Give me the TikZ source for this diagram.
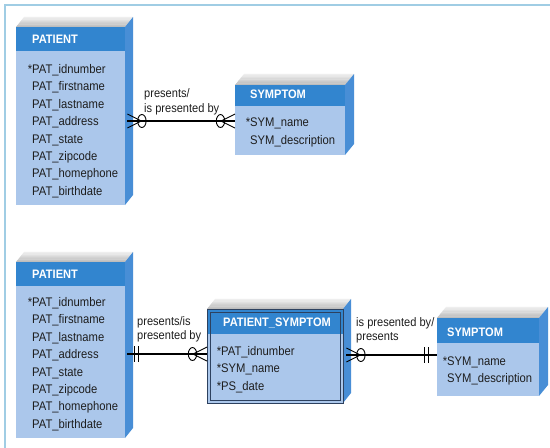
\documentclass[tikz,border=0pt]{standalone}
\usepackage{fontspec}
\setmainfont{Liberation Sans}[FakeStretch=0.9]
\usetikzlibrary{calc}

\definecolor{headblue}{RGB}{50,133,207}
\definecolor{bodyblue}{RGB}{171,199,235}
\definecolor{sideblue}{RGB}{72,142,214}
\definecolor{framecol}{RGB}{160,205,228}
\definecolor{edgecol}{RGB}{45,65,95}
\definecolor{txtcol}{RGB}{30,30,30}

\tikzset{
  entbody/.style={fill=bodyblue, inner sep=0pt, anchor=north west},
  enthead/.style={fill=headblue, inner sep=0pt, anchor=north west},
  title/.style={font=\fontsize{12.3}{14}\selectfont\bfseries, text=white, anchor=base west, inner sep=0pt},
  attr/.style={font=\fontsize{12.5}{14}\selectfont, text=txtcol, anchor=base west, inner sep=0pt},
  lbl/.style={font=\fontsize{12.3}{14}\selectfont, text=txtcol, anchor=base west, inner sep=0pt},
  rel/.style={line width=1.1pt, black},
  notation/.style={line width=0.9pt, black},
}

% 3-D entity box: #1 name, #2 left, #3 top, #4 right, #5 bottom,
% #6 bottom of header band, #7/#8 depth of the box (x / y)
\newcommand\entbox[8]{%
  % top face, grey fading towards the back edge
  \foreach \k in {0,...,7}{
    \pgfmathsetmacro\fa{\k/8}
    \pgfmathsetmacro\fb{(\k+1.15)/8}
    \pgfmathsetmacro\gv{52-5.5*\k}
    \fill[gray!\gv] ({#2+#7*\fa},{#3-#8*\fa}) -- ({#4+#7*\fa},{#3-#8*\fa})
      -- ({#4+#7*\fb},{#3-#8*\fb}) -- ({#2+#7*\fb},{#3-#8*\fb}) -- cycle;
  }
  \fill[sideblue] (#4,#3) -- (#4+#7,#3-#8) -- (#4+#7,#5-#8) -- (#4,#5) -- cycle;
  \node[entbody, minimum width=#4-#2, minimum height=#5-#3] (#1) at (#2,#3) {};
  \node[enthead, minimum width=#4-#2, minimum height=#6-#3] (#1-head) at (#2,#3) {};
}

% attribute lines: #1 prefix, #2 x, #3 first baseline, #4 line step, #5 list
\newcommand\attrlist[5]{%
  \foreach \t [count=\i] in {#5} {
    \node[attr] (#1-\i) at (#2,{#3+(\i-1)*#4}) {\t};
  }
}

% zero-or-many end: toes at #1, pointing in direction #2 (+1 right, -1 left)
\newcommand\zeromany[2]{%
  \draw[notation] ($(#1)+(0,-7)$) -- ($(#1)+(#2*14,0)$) -- ($(#1)+(0,7)$);
  \draw[notation] ($(#1)+(#2*14.5,0)$) ellipse [x radius=4.2, y radius=6.5];
}
% exactly-one end: two bars, the first at distance #3 from end #1, direction #2
\newcommand\onlyone[3]{%
  \draw[notation] ($(#1)+(#2*#3,-8)$) -- ($(#1)+(#2*#3,8)$);
  \draw[notation] ($(#1)+(#2*#3+#2*4,-8)$) -- ($(#1)+(#2*#3+#2*4,8)$);
}

\begin{document}
\begin{tikzpicture}[x=1pt,y=-1pt]
\useasboundingbox (0,0) rectangle (550,448);
\fill[white] (0,0) rectangle (550,448);

% outer frame (top and left edges)
\draw[framecol, line width=1.5pt] (5,448) -- (5,5) -- (550,5);

% ---------- upper diagram ----------
\entbox{pat1}{16}{27}{125}{205}{51}{8}{10}
\node[title] (pat1-t) at (32,43.8) {PATIENT};
\attrlist{pat1}{32}{73.5}{17.4}{\llap{*}PAT\_idnumber, PAT\_firstname, PAT\_lastname,
  PAT\_address, PAT\_state, PAT\_zipcode, PAT\_homephone, PAT\_birthdate}

\entbox{sym1}{235}{85}{345}{155}{106}{9}{11}
\node[title] (sym1-t) at (250,98.5) {SYMPTOM};
\attrlist{sym1}{250}{126.4}{18}{\llap{*}SYM\_name, SYM\_description}

\coordinate (r1) at (0,121);
\draw[rel] ($(pat1.east |- r1)+(2,0)$) coordinate (r1s) -- (sym1.west |- r1) coordinate (r1e);
\zeromany{r1s}{1}
\zeromany{r1e}{-1}
\node[lbl] (r1a) at (144,97) {presents/};
\node[lbl] (r1b) at (144,112) {is presented by};

% ---------- lower diagram ----------
\entbox{pat2}{16}{262}{125}{438}{286}{8}{10}
\node[title] (pat2-t) at (32,278.8) {PATIENT};
\attrlist{pat2}{32}{306.4}{17.4}{\llap{*}PAT\_idnumber, PAT\_firstname, PAT\_lastname,
  PAT\_address, PAT\_state, PAT\_zipcode, PAT\_homephone, PAT\_birthdate}

\entbox{ps}{207}{309}{343}{403}{334}{8}{10}
\draw[edgecol, line width=1pt] (ps.north west) rectangle (ps.south east);
\draw[edgecol, line width=0.8pt] ($(ps.north west)+(3,3)$) rectangle ($(ps.south east)+(-3,-3)$);
\node[title] (ps-t) at (223,326.8) {PATIENT\_SYMPTOM};
\attrlist{ps}{221}{355.4}{17.5}{\llap{*}PAT\_idnumber, \llap{*}SYM\_name, \llap{*}PS\_date}

\entbox{sym2}{437}{318}{539}{396}{343}{9}{11}
\node[title] (sym2-t) at (447,336.8) {SYMPTOM};
\attrlist{sym2}{447}{365.4}{17}{\llap{*}SYM\_name, SYM\_description}

\coordinate (r2) at (0,354);
\draw[rel] ($(pat2.east |- r2)+(2,0)$) coordinate (r2s) -- (ps.west |- r2) coordinate (r2e);
\onlyone{r2s}{1}{7}
\zeromany{r2e}{-1}
\node[lbl] (r2a) at (137,325) {presents/is};
\node[lbl] (r2b) at (137,339) {presented by};

\coordinate (r3) at (0,355);
\draw[rel] ($(ps.east |- r3)+(3,0)$) coordinate (r3s) -- (sym2.west |- r3) coordinate (r3e);
\zeromany{r3s}{1}
\onlyone{r3e}{-1}{9}
\node[lbl] (r3a) at (356,326) {is presented by/};
\node[lbl] (r3b) at (356,340) {presents};
\end{tikzpicture}
\end{document}
